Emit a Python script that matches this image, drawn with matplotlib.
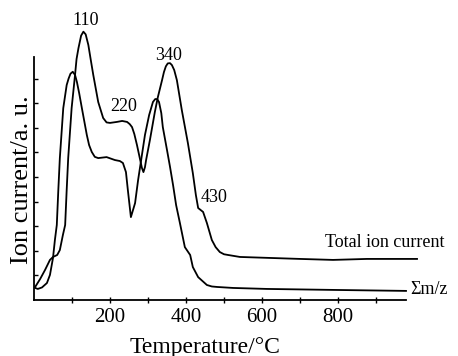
import matplotlib
matplotlib.use("Agg")
import matplotlib.pyplot as plt

plt.rcParams['font.family'] = ['Liberation Serif', 'DejaVu Serif']

# Temperature (°C) and ion current (a.u.)
sum_mz_T = [3, 10, 21, 34, 42, 50, 55, 60, 64, 68, 77, 86, 91, 96, 102, 108, 113, 119,
            126, 139, 145, 152, 160, 169, 191, 213, 226, 234, 242, 247, 255, 266, 274,
            282, 292, 303, 313, 319, 324, 329, 335, 339, 350, 358, 366, 374, 384, 397,
            411, 418, 432, 455, 468, 482, 524, 613, 787, 979]
sum_mz_I = [0.49, 0.45, 0.51, 0.69, 1.02, 1.71, 2.44, 3.05, 4.47, 5.77, 7.80, 8.74, 9.0,
            9.2, 9.28, 9.15, 8.86, 8.4, 7.80, 6.71, 6.3, 6.02, 5.82, 5.77, 5.81, 5.69,
            5.65, 5.57, 5.20, 4.47, 3.37, 3.94, 4.88, 5.69, 6.71, 7.52, 8.05, 8.17, 8.17,
            8.05, 7.6, 7.03, 6.10, 5.41, 4.67, 3.86, 3.13, 2.15, 1.83, 1.34, 0.93, 0.61,
            0.55, 0.53, 0.49, 0.45, 0.41, 0.37]

tic_T = [3, 16, 29, 42, 50, 61, 68, 76, 82, 86, 90, 99, 108, 112, 117, 124, 130, 136,
         143, 149, 156, 169, 182, 191, 200, 218, 232, 245, 252, 258, 264, 271, 284, 288,
         292, 295, 305, 318, 326, 337, 342, 347, 352, 358, 363, 369, 376, 389, 405, 418,
         426, 432, 445, 455, 468, 478, 489, 500, 511, 542, 621, 700, 787, 876, 1008]
tic_I = [0.53, 0.85, 1.22, 1.63, 1.75, 1.83, 2.03, 2.64, 3.05, 4.47, 5.77, 7.80, 9.15,
         9.8, 10.24, 10.75, 10.91, 10.8, 10.37, 9.8, 9.15, 8.05, 7.40, 7.22, 7.20, 7.24,
         7.28, 7.24, 7.15, 7.03, 6.75, 6.30, 5.37, 5.20, 5.4, 5.69, 6.50, 7.64, 8.25,
         8.94, 9.27, 9.5, 9.62, 9.63, 9.55, 9.35, 8.94, 7.72, 6.38, 5.16, 4.27, 3.74,
         3.58, 3.13, 2.44, 2.15, 1.95, 1.86, 1.83, 1.75, 1.71, 1.67, 1.63, 1.67, 1.67]

peak_labels = ["110", "220", "340", "430"]
peak_T = [137, 237, 355, 474]
peak_I = [11.38, 7.85, 9.96, 4.15]

xticks = [100, 200, 300, 400, 500, 600, 700, 800, 900]
xtick_labels = ["", "200", "", "400", "", "600", "", "800", ""]

W, H = 458, 356
fig = plt.figure(figsize=(W / 100, H / 100), dpi=100)
ax = fig.add_axes([34 / W, 1 - 300 / H, (406 - 34) / W, (300 - 57) / H])

ax.plot(tic_T, tic_I, color='black', lw=1.3, clip_on=False)
ax.plot(sum_mz_T, sum_mz_I, color='black', lw=1.3, clip_on=False)

ax.set_xlim(0, 979)
ax.set_ylim(0, 9.88)

for s in ['top', 'right']:
    ax.spines[s].set_visible(False)
for s in ['left', 'bottom']:
    ax.spines[s].set_linewidth(1.3)

ax.set_xticks(xticks)
ax.set_xticklabels(xtick_labels, fontsize=15)
ax.set_yticks(range(1, 10))
ax.set_yticklabels([])
ax.tick_params(axis='x', direction='inout', length=4, width=1.0, pad=4)
ax.tick_params(axis='y', direction='in', length=3, width=1.0)

for lab, t, v in zip(peak_labels, peak_T, peak_I):
    ax.text(t, v, lab, fontsize=13, ha='center', va='center', clip_on=False)

ax.text(924, 2.32, "Total ion current", fontsize=13, ha='center', va='center', clip_on=False)
ax.text(989, 0.41, "\u03a3m/z", fontsize=13, ha='left', va='center', clip_on=False)

fig.text(205 / W, 1 - 347 / H, "Temperature/\u00b0C", fontsize=17, ha='center', va='center')
fig.text(22 / W, 1 - 180 / H, "Ion current/a. u.", fontsize=19, ha='center', va='center',
         rotation=90)

fig.savefig("out.png", dpi=100)
